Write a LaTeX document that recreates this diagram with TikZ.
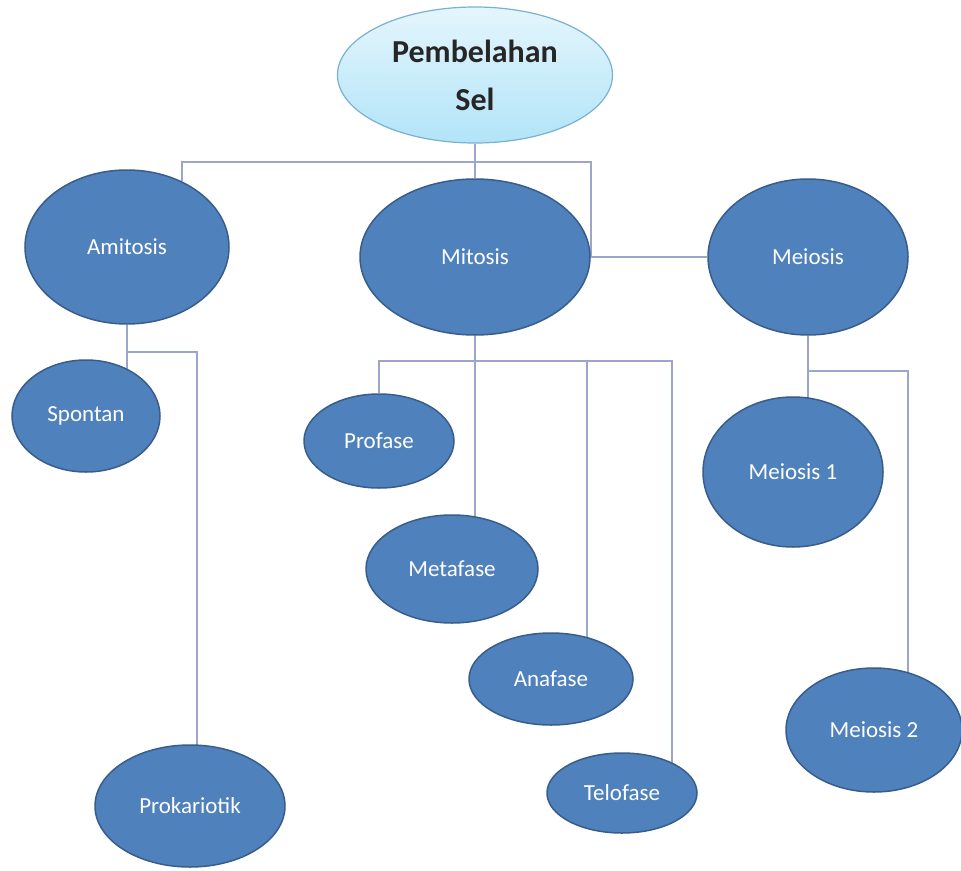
\documentclass[tikz,border=0pt]{standalone}
\usepackage{fontspec}
\setmainfont{Carlito}
\usetikzlibrary{shapes.geometric,positioning,backgrounds}
\definecolor{cellcol}{RGB}{79,129,189}
\definecolor{celledge}{RGB}{56,93,138}
\definecolor{rootcol}{RGB}{178,228,248}
\definecolor{rootedge}{RGB}{120,178,208}
\definecolor{linkcol}{RGB}{155,166,202}

\begin{document}
\begin{tikzpicture}[x=1pt, y=-1pt,
  cell/.style={ellipse, draw=celledge, line width=1.5pt, fill=cellcol,
               text=white, inner sep=0pt, font=\fontsize{23}{28}\selectfont},
  dims/.style 2 args={minimum width=#1pt, minimum height=#2pt},
  root/.style={ellipse, draw=rootedge, line width=1.2pt,
               top color=rootcol!35!white, bottom color=rootcol,
               text=black!85, inner sep=0pt, align=center,
               font=\fontsize{32}{48}\selectfont\bfseries},
  link/.style={draw=linkcol, line width=1.5pt}
]
  \useasboundingbox (0,0) rectangle (961,870);

  % Root
  \node[root, dims={275}{136}] (sel) at (475,75) {Pembelahan\\Sel};

  % Main types
  \node[cell, dims={204}{154}] (amit) at (127,247) {Amitosis};
  \node[cell, dims={230}{156}] (mit)  at (475,257) {Mitosis};
  \node[cell, dims={200}{156}] (mei)  at (808,257) {Meiosis};

  % Amitosis branch
  \node[cell, dims={148}{112}] (spon) at (86,416)  {Spontan};
  \node[cell, dims={190}{122}] (prok) at (190,806) {Prokariotik};

  % Mitosis phases
  \node[cell, dims={150}{94}]  (pro)  at (379,441) {Profase};
  \node[cell, dims={172}{108}] (meta) at (452,569) {Metafase};
  \node[cell, dims={164}{92}]  (ana)  at (551,679) {Anafase};
  \node[cell, dims={150}{80}]  (telo) at (622,793) {Telofase};

  % Meiosis stages
  \node[cell, dims={180}{150}] (mei1) at (793,472) {Meiosis 1};
  \node[cell, dims={176}{124}] (mei2) at (874,730) {Meiosis 2};

  % Connections (behind the ellipses)
  \begin{scope}[on background layer]
    \fill[white] (0,0) rectangle (961,870);
    \coordinate (rb) at (475,162);
    \coordinate (ab) at (197,352);
    \coordinate (mb2) at (587,361);
    \coordinate (mb3) at (672,361);
    \coordinate (eb) at (908,371);

    \draw[link] (sel) -- (mit);
    \draw[link] (rb) -| (amit.50);
    \draw[link] (rb) -| (mit.east);
    \draw[link] (mit.east) -- (mei.west);

    \draw[link] (amit) -- (amit |- spon);
    \draw[link] (amit |- ab) -- (ab) -- (ab |- prok);

    \draw[link] (mit) -- (mit |- meta);
    \draw[link] (pro) |- (mb3) -- (mb3 |- telo);
    \draw[link] (mb2) -- (mb2 |- ana);

    \draw[link] (mei) -- (mei |- mei1);
    \draw[link] (mei |- eb) -- (eb) -- (eb |- mei2);
  \end{scope}
\end{tikzpicture}
\end{document}
